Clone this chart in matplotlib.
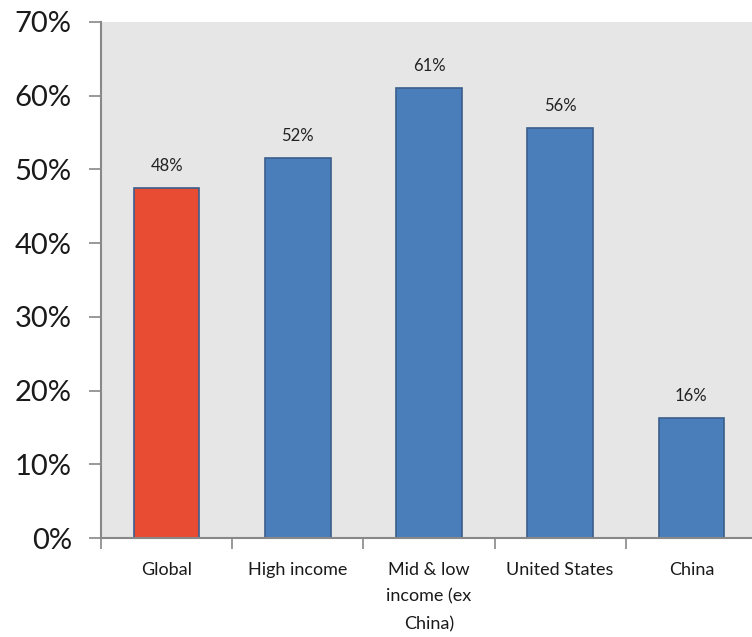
import numpy as np
import matplotlib.pyplot as plt
from matplotlib.ticker import FuncFormatter

categories = ["Global", "High income", "Mid & low\nincome (ex\nChina)", "United States", "China"]
values = [47.5, 51.6, 61.1, 55.6, 16.3]
labels = ["48%", "52%", "61%", "56%", "16%"]
colors = ["#E84C32", "#4A7EBB", "#4A7EBB", "#4A7EBB", "#4A7EBB"]

plt.rcParams['font.family'] = ['Lato', 'DejaVu Sans']

fig = plt.figure(figsize=(7.52, 6.37), dpi=100)
ax = fig.add_axes([0.1343, 0.1554, 0.8723, 0.8101])
ax.set_facecolor("#E6E6E6")

x = np.arange(len(categories))
bars = ax.bar(x, values, width=0.5, color=colors, edgecolor="#3B5E8C", linewidth=1.2, zorder=2)
for b, lab in zip(bars, labels):
    ax.text(b.get_x() + b.get_width() / 2, b.get_height() + 1.9, lab,
            ha="center", va="bottom", fontsize=12, color="#222222")

ax.set_xlim(-0.5, len(categories) - 0.5)
ax.set_ylim(0, 70)
ax.set_yticks(range(0, 71, 10))
ax.yaxis.set_major_formatter(FuncFormatter(lambda v, p: f"{int(v)}%"))
ax.tick_params(axis="y", labelsize=21, length=9, width=1.2, color="#888888",
               labelcolor="#1a1a1a", pad=12)

# category boundaries as tick marks, names centred between
ax.set_xticks(np.arange(-0.5, len(categories) + 0.5, 1))
ax.set_xticklabels([])
ax.set_xticks(x, minor=True)
ax.set_xticklabels(categories, minor=True, fontsize=13, color="#1a1a1a", linespacing=1.85)
ax.tick_params(axis="x", which="major", length=8, width=1.2, color="#888888")
ax.tick_params(axis="x", which="minor", length=0, pad=17)

for s in ["top", "right"]:
    ax.spines[s].set_visible(False)
for s in ["left", "bottom"]:
    ax.spines[s].set_color("#888888")
    ax.spines[s].set_linewidth(1.5)

fig.savefig("out.png", dpi=100)
